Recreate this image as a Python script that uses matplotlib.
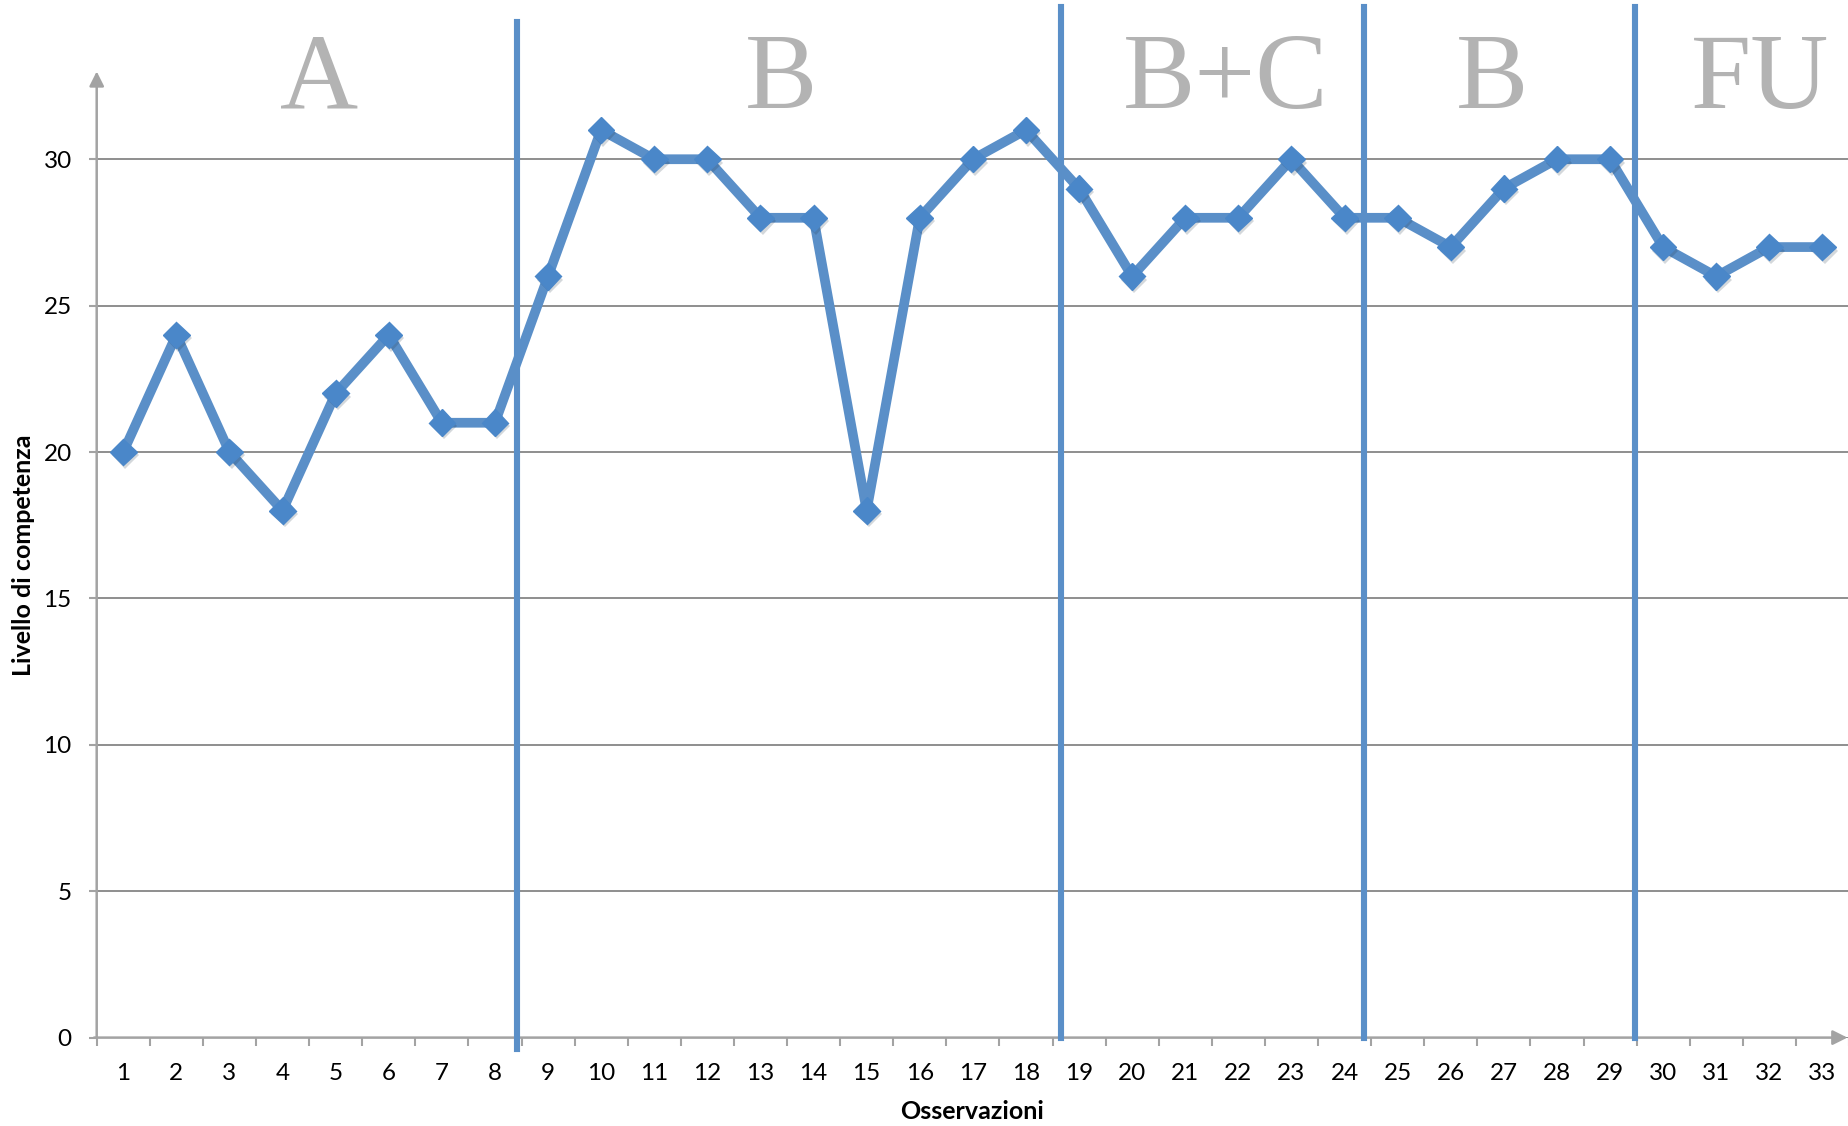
import matplotlib.pyplot as plt
import matplotlib.patheffects as pe
import numpy as np

# dati: livello di competenza per ogni osservazione
osservazioni = list(range(1, 34))
livello = [20, 24, 20, 18, 22, 24, 21, 21, 26, 31, 30, 30, 28, 28, 18, 28, 30,
           31, 29, 26, 28, 28, 30, 28, 28, 27, 29, 30, 30, 27, 26, 27, 27]

# fasi e separatori (posizioni)
fasi = ['A', 'B', 'B+C', 'B', 'FU']
fasi_x = [4.68, 13.38, 21.77, 26.77, 31.83]
separatori = [8.41, 18.66, 24.36, 29.47]
sep_top = [34.67, 35.2, 35.2, 35.2]
sep_bottom = [-0.4, 0, 0, 0]

blu = '#5A8FC8'
grigio = '#a3a3a3'

plt.rcParams['font.family'] = ['Lato', 'DejaVu Sans']

fig = plt.figure(figsize=(18.49, 11.26), dpi=100)
ax = fig.add_axes([0.0523, 0.0785, 0.9477, 0.9205])
ax.set_xlim(0.5, 33.5)
ax.set_ylim(0, 35.4)

for s in ax.spines.values():
    s.set_visible(False)

# griglia orizzontale
ax.set_yticks(range(0, 31, 5))
ax.yaxis.grid(True, color='#8e8e8e', lw=1.4)
ax.set_axisbelow(True)

# tick asse x: etichette sugli interi, trattini ai confini
ax.set_xticks(osservazioni)
ax.set_xticks(np.arange(0.5, 34, 1.0), minor=True)
ax.tick_params(axis='x', which='major', length=0, pad=18, labelsize=17.5)
ax.tick_params(axis='x', which='minor', length=6, width=1.5, color=grigio, direction='out')
ax.tick_params(axis='y', which='major', length=6, width=1.5, color=grigio, pad=12, labelsize=17.5)

# assi con freccia
ax.annotate('', xy=(0.5, 33.0), xytext=(0.5, -0.02), annotation_clip=False,
            arrowprops=dict(arrowstyle='-|>', color=grigio, lw=1.8, mutation_scale=22,
                            shrinkA=0, shrinkB=0))
ax.annotate('', xy=(33.47, 0), xytext=(0.45, 0), annotation_clip=False,
            arrowprops=dict(arrowstyle='-|>', color=grigio, lw=1.8, mutation_scale=22,
                            shrinkA=0, shrinkB=0))

# linee verticali di separazione fasi
for x, y0, y1 in zip(separatori, sep_bottom, sep_top):
    ax.plot([x, x], [y0, y1], color=blu, lw=4.4, clip_on=False, zorder=3,
            path_effects=[pe.SimplePatchShadow(offset=(2, -1), alpha=0.12), pe.Normal()])

# serie
ax.plot(osservazioni, livello, color=blu, lw=7, zorder=4, solid_joinstyle='round')
ax.plot(osservazioni, livello, ls='none', marker='D', ms=13.5, color='#4A87C9',
        mec='#4A87C9', zorder=5,
        path_effects=[pe.SimplePatchShadow(offset=(1.5, -2.5), alpha=0.18), pe.Normal()])

# etichette fasi
for t, x in zip(fasi, fasi_x):
    ax.text(x, 31.74, t, ha='center', va='baseline', color='#b3b3b3',
            fontsize=78, family=['Liberation Serif', 'DejaVu Serif'], zorder=2)

fig.text(0.5258, 0.003, 'Osservazioni', ha='center', va='bottom', fontsize=18,
         fontweight='bold')
fig.text(0.0125, 0.507, 'Livello di competenza', ha='center', va='center', rotation=90,
         fontsize=18, fontweight='bold')

fig.savefig('out.png', dpi=100)
